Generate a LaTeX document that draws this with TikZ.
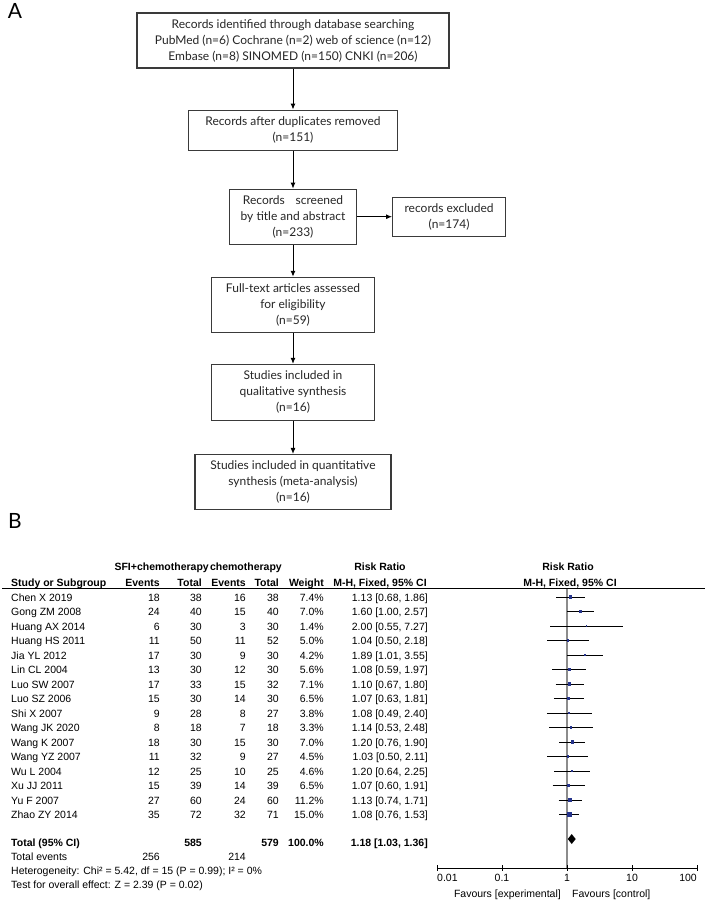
\documentclass[tikz,border=0pt]{standalone}
\usepackage{fontspec}
\setmainfont{Liberation Sans}
\newfontfamily\flowfont{Lato}
\usetikzlibrary{arrows.meta,positioning}
\definecolor{framegray}{HTML}{3A3A3A}
\definecolor{markblue}{HTML}{26348C}
\definecolor{nullgray}{HTML}{8C8C8C}
\tikzset{
  flowbox/.style={draw=framegray,line width=1.1pt,align=center,inner sep=0pt,
    font=\flowfont\fontsize{12}{16}\selectfont,text=black!85},
  flowarrow/.style={-{Latex[length=6pt,width=5pt]},line width=1pt},
  panel/.style={font=\flowfont\fontsize{21}{21}\selectfont,inner sep=0pt},
  cell/.style={font=\fontsize{10.5}{12}\selectfont,inner sep=0pt,anchor=base east},
  lcell/.style={cell,anchor=base west},
  hcell/.style={cell,font=\bfseries\fontsize{10.5}{12}\selectfont},
}
\begin{document}
\begin{tikzpicture}[x=1pt,y=-1pt]
\useasboundingbox[fill=white] (0,0) rectangle (708,900);
\node[panel] (pa) at (15,11) {A};
\node[flowbox,minimum width=312pt,minimum height=55pt] (ident) at (293,40.5) {Records identified through database searching\\PubMed (n=6) Cochrane (n=2) web of science (n=12)\\Embase (n=8) SINOMED (n=150) CNKI (n=206)};
\node[flowbox,minimum width=209pt,minimum height=40pt,below=41pt of ident] (dupl) {Records after duplicates removed\\(n=151)};
\node[flowbox,minimum width=127pt,minimum height=55pt,below=38pt of dupl] (screen) {Records\hspace{0.9em}screened\\by title and abstract\\(n=233)};
\node[flowbox,minimum width=113pt,minimum height=39pt,right=35pt of screen] (excl) {records excluded\\(n=174)};
\node[flowbox,minimum width=163pt,minimum height=55pt,below=32pt of screen] (full) {Full-text articles assessed\\for eligibility\\(n=59)};
\node[flowbox,minimum width=163pt,minimum height=56pt,below=31pt of full] (qual) {Studies included in\\qualitative synthesis\\(n=16)};
\node[flowbox,minimum width=196pt,minimum height=55pt,below=33pt of qual] (quant) {Studies included in quantitative\\synthesis (meta-analysis)\\(n=16)};
\draw[flowarrow] (ident) -- (dupl);
\draw[flowarrow] (dupl) -- (screen);
\draw[flowarrow] (screen) -- (excl);
\draw[flowarrow] (screen) -- (full);
\draw[flowarrow] (full) -- (qual);
\draw[flowarrow] (qual) -- (quant);

\node[panel] (pb) at (15,521) {B};
\node[hcell] (hsfi) at (209,570.7) {SFI+chemotherapy};
\node[hcell] (hchemo) at (282,570.7) {chemotherapy};
\node[hcell,anchor=base] (hrr) at (380,570.7) {Risk Ratio};
\node[hcell,anchor=base] (hplot) at (568,570.7) {Risk Ratio};
\node[hcell,anchor=base west] (hstudy) at (11,586.2) {Study or Subgroup};
\node[hcell] (hea) at (160,586.2) {Events};
\node[hcell] (hna) at (202,586.2) {Total};
\node[hcell] (heb) at (246,586.2) {Events};
\node[hcell] (hnb) at (279,586.2) {Total};
\node[hcell] (hwt) at (324,586.2) {Weight};
\node[hcell,anchor=base] (hci) at (380,586.2) {M-H, Fixed, 95\% CI};
\node[hcell,anchor=base] (hfix) at (570,586.2) {M-H, Fixed, 95\% CI};
\draw[line width=0.8pt] (2,588.5) -- (705,588.5);
\draw[nullgray,line width=1.5pt] (567,589) -- (567,868);
\foreach \study/\ea/\na/\eb/\nb/\wt/\rr/\lo/\hi [count=\i] in {
  Chen X 2019/18/38/16/38/7.4/1.13/0.68/1.86,
  Gong ZM 2008/24/40/15/40/7.0/1.60/1.00/2.57,
  Huang AX 2014/6/30/3/30/1.4/2.00/0.55/7.27,
  Huang HS 2011/11/50/11/52/5.0/1.04/0.50/2.18,
  Jia YL 2012/17/30/9/30/4.2/1.89/1.01/3.55,
  Lin CL 2004/13/30/12/30/5.6/1.08/0.59/1.97,
  Luo SW 2007/17/33/15/32/7.1/1.10/0.67/1.80,
  Luo SZ 2006/15/30/14/30/6.5/1.07/0.63/1.81,
  Shi X 2007/9/28/8/27/3.8/1.08/0.49/2.40,
  Wang JK 2020/8/18/7/18/3.3/1.14/0.53/2.48,
  Wang K 2007/18/30/15/30/7.0/1.20/0.76/1.90,
  Wang YZ 2007/11/32/9/27/4.5/1.03/0.50/2.11,
  Wu L 2004/12/25/10/25/4.6/1.20/0.64/2.25,
  Xu JJ 2011/15/39/14/39/6.5/1.07/0.60/1.91,
  Yu F 2007/27/60/24/60/11.2/1.13/0.74/1.71,
  Zhao ZY 2014/35/72/32/71/15.0/1.08/0.76/1.53}{
  \pgfmathsetmacro\yb{586.7+14.5*\i}
  \pgfmathsetmacro\ym{582.5+14.5*\i}
  \pgfmathsetmacro\xl{567+28.23*ln(\lo)}
  \pgfmathsetmacro\xh{567+28.23*ln(\hi)}
  \pgfmathsetmacro\xr{567+28.23*ln(\rr)}
  \pgfmathsetmacro\sz{0.6*sqrt(\wt)}
  \node[lcell] (st\i) at (11,\yb) {\study};
  \node[cell] (ea\i) at (160,\yb) {\ea};
  \node[cell] (na\i) at (202,\yb) {\na};
  \node[cell] (eb\i) at (246,\yb) {\eb};
  \node[cell] (nb\i) at (279,\yb) {\nb};
  \node[cell] (wt\i) at (324,\yb) {\wt\%};
  \node[cell] (ci\i) at (428,\yb) {\rr\ [\lo, \hi]};
  \draw[line width=0.6pt] (\xl,\ym) -- (\xh,\ym);
  \fill[markblue] (\xr-\sz,\ym-\sz) rectangle (\xr+\sz,\ym+\sz);
}
\node[hcell,anchor=base west] (tot) at (11,846.7) {Total (95\% CI)};
\node[hcell] (totna) at (202,846.7) {585};
\node[hcell] (totnb) at (279,846.7) {579};
\node[hcell] (totwt) at (324,846.7) {100.0\%};
\node[hcell] (totci) at (428,846.7) {1.18 [1.03, 1.36]};
\fill (567.8,839) -- (571.7,834) -- (575.7,839) -- (571.7,844) -- cycle;
\node[lcell] (ev) at (11,860.7) {Total events};
\node[cell] (eva) at (160,860.7) {256};
\node[cell] (evb) at (246,860.7) {214};
\node[lcell] (het) at (11,874.7) {Heterogeneity: Chi² = 5.42, df = 15 (P = 0.99); I² = 0\%};
\node[lcell] (eff) at (11,888.7) {Test for overall effect: Z = 2.39 (P = 0.02)};
\draw[line width=0.8pt] (437,868) -- (697,868);
\foreach \t/\lab/\anc [count=\k] in {437/0.01/base west,502/0.1/base,567/1/base,632/10/base,697/100/base east}{
  \draw[line width=0.8pt] (\t,865) -- (\t,871);
  \node[cell,anchor=\anc] (tk\k) at (\t,881) {\lab};
}
\node[cell] (favexp) at (561,897.5) {Favours [experimental]};
\node[lcell] (favctl) at (572,897.5) {Favours [control]};
\end{tikzpicture}
\end{document}
